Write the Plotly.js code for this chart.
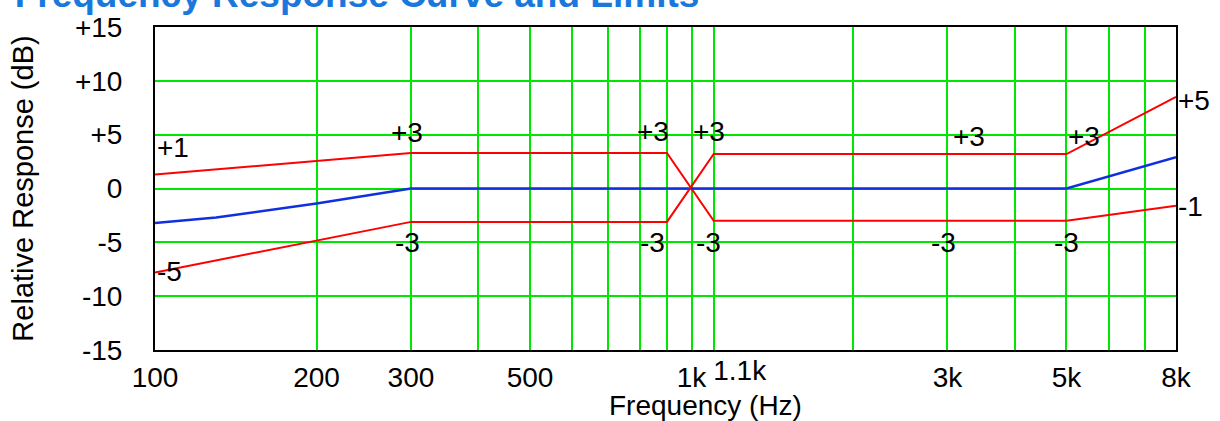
<!DOCTYPE html>
<html>
<head>
<meta charset="utf-8">
<script src="https://cdn.plot.ly/plotly-3.0.1.min.js"></script>
<style>
html,body{margin:0;padding:0;background:#fff;}
#chart{width:1220px;height:421px;}
</style>
</head>
<body>
<div id="chart"></div>
<script>
// ---- data ----
const limitAFreq = [100, 300, 900, 1100, 5000, 8000];
const limitADb   = [1.3, 3.3, 3.3, -3.0, -3.0, -1.6];
const limitBFreq = [100, 300, 900, 1100, 5000, 8000];
const limitBDb   = [-7.8, -3.1, -3.1, 3.2, 3.2, 8.5];
const respFreq   = [100, 130, 200, 300, 1000, 5000, 8000];
const respDb     = [-3.2, -2.7, -1.4, 0, 0, 0, 2.9];

const xTickVals  = [100, 200, 300, 500, 1000, 3000, 5000, 8000];
const xTickText  = ['100', '200', '300', '500', '1k', '3k', '5k', '8k'];
const xTick2Vals = [1100];
const xTick2Text = ['1.1k'];
const xMinorVals = [400, 600, 700, 800, 900, 1100, 2000, 4000, 6000, 7000];
const yTickVals  = [-15, -10, -5, 0, 5, 10, 15];
const yTickText  = ['-15', '-10', '-5', '0', '+5', '+10', '+15'];

// tolerance labels
const labelFreq  = [100, 295, 295, 848, 845, 1078, 1075, 3290, 2950, 5400, 4990, 8000, 8000, 100];
const labelDb    = [3.8, 5.2, -5.0, 5.3, -5.0, 5.3, -5.0, 4.8, -5.0, 4.8, -5.0, 8.2, -1.7, -7.7];
const labelText  = ['+1', '+3', '-3', '+3', '-3', '+3', '-3', '+3', '-3', '+3', '-3', '+5', '-1', '-5'];
const labelAnch  = ['left', 'center', 'center', 'center', 'center', 'center', 'center', 'center', 'center', 'center', 'center', 'left', 'left', 'left'];

const FONT = 'Liberation Sans, Arial, Helvetica, sans-serif';
const GRID = '#00e600';
const XRANGE = [2, Math.log10(8000)];

const traces = [
  {x: limitAFreq, y: limitADb, type: 'scatter', mode: 'lines', name: 'Limit A',
   line: {color: '#ff0000', width: 2}},
  {x: limitBFreq, y: limitBDb, type: 'scatter', mode: 'lines', name: 'Limit B', xaxis: 'x2',
   line: {color: '#ff0000', width: 2}},
  {x: respFreq, y: respDb, type: 'scatter', mode: 'lines', name: 'Response',
   line: {color: '#1030e0', width: 2.5}}
];

const annotations = labelText.map((t, i) => ({
  x: Math.log10(labelFreq[i]), y: labelDb[i], xref: 'x', yref: 'y',
  text: t, showarrow: false, xanchor: labelAnch[i], yanchor: 'middle',
  font: {family: FONT, size: 28, color: '#000'}
}));
annotations.push({
  x: 0.539, y: 0, xref: 'paper', yref: 'paper', yanchor: 'top', xanchor: 'center',
  yshift: -38, text: 'Frequency (Hz)', showarrow: false,
  font: {family: FONT, size: 28, color: '#000'}
});

const layout = {
  width: 1220, height: 421,
  margin: {l: 155, r: 44, t: 27, b: 71},
  paper_bgcolor: '#fff', plot_bgcolor: '#fff',
  showlegend: false,
  title: {
    text: '<b>Frequency Response Curve and Limits</b>',
    x: 0.012, xanchor: 'left', xref: 'container',
    y: 1.058, yanchor: 'bottom', yref: 'paper',
    font: {family: FONT, size: 37, color: '#1a78dc'}
  },
  xaxis: {
    type: 'log', range: XRANGE,
    tickmode: 'array', tickvals: xTickVals, ticktext: xTickText, tickangle: 0,
    showgrid: true, gridcolor: GRID, gridwidth: 2,
    minor: {tickmode: 'array', tickvals: xMinorVals, showgrid: true, gridcolor: GRID, gridwidth: 2, ticks: ''},
    ticks: '', ticklabelstandoff: 1,
    showline: true, mirror: true, linecolor: '#000', linewidth: 2,
    zeroline: false,
    tickfont: {family: FONT, size: 28, color: '#000'}
  },
  xaxis2: {
    type: 'log', range: XRANGE, overlaying: 'x', anchor: 'y', side: 'bottom',
    tickmode: 'array', tickvals: xTick2Vals, ticktext: xTick2Text, tickangle: 0,
    ticklabelshift: 26, ticklabelstandoff: 1, ticks: '',
    showgrid: false, showline: false, zeroline: false,
    tickfont: {family: FONT, size: 28, color: '#000'}
  },
  yaxis: {
    range: [-15, 15],
    tickmode: 'array', tickvals: yTickVals, ticktext: yTickText,
    showgrid: true, gridcolor: GRID, gridwidth: 2,
    zeroline: false, ticks: '', ticklabelstandoff: 25,
    showline: true, mirror: true, linecolor: '#000', linewidth: 2,
    tickfont: {family: FONT, size: 28, color: '#000'},
    title: {text: 'Relative Response (dB)', standoff: 33, font: {family: FONT, size: 29, color: '#000'}}
  },
  annotations: annotations
};

Plotly.newPlot('chart', traces, layout, {staticPlot: true, displayModeBar: false}).then(function (gd) {
  // the reference shows the title partly cut off by the top edge
  const t = gd.querySelector('.gtitle');
  if (t) t.setAttribute('transform', 'translate(0,-7)');
});
</script>
</body>
</html>
